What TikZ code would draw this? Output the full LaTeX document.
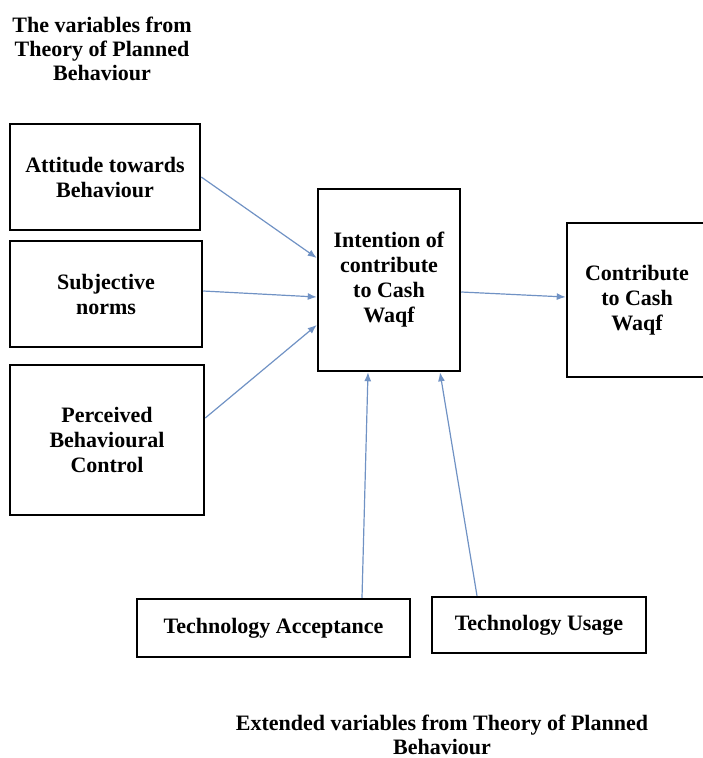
\documentclass[tikz,border=0pt]{standalone}
\usepackage{fontspec}
\setmainfont{Liberation Serif}
\usetikzlibrary{arrows.meta}
\definecolor{arrblue}{RGB}{112,146,196}
\tikzset{
  box/.style={draw,line width=2.5pt,align=center,inner sep=0pt,
    font=\bfseries\fontsize{22}{25}\selectfont},
  caption/.style={align=center,font=\bfseries\fontsize{22}{24}\selectfont},
  link/.style={->,draw=arrblue,line width=1.2pt}
}
\begin{document}
\begin{tikzpicture}[x=1pt,y=-1pt,>={Latex[length=9pt,width=7pt]}]
  \useasboundingbox (0,0) rectangle (702,758);

  \node[caption](top) at (102,49) {The variables from\\Theory of Planned\\Behaviour};
  \node[caption](bot) at (442,735) {Extended variables from Theory of Planned\\Behaviour};

  \node[box,minimum width=190pt,minimum height=106pt](att) at (105,177) {Attitude towards\\Behaviour};
  \node[box,minimum width=192pt,minimum height=106pt](sn) at (106,294) {Subjective\\norms};
  \node[box,minimum width=194pt,minimum height=150pt](pbc) at (107,440) {Perceived\\Behavioural\\Control};
  \node[box,minimum width=142pt,minimum height=182pt](int) at (389,280) {Intention of\\contribute\\to Cash\\Waqf};
  \node[box,minimum width=140pt,minimum height=154pt](cw) at (637,300) {Contribute\\to Cash\\Waqf};
  \node[box,minimum width=273pt,minimum height=58pt](ta) at (273.5,628) {Technology Acceptance};
  \node[box,minimum width=214pt,minimum height=56pt](tu) at (539,625) {Technology Usage};

  \draw[link] (att.east) -- ([yshift=22pt]int.west);
  \draw[link] ([yshift=3pt]sn.east) -- ([yshift=-17pt]int.west);
  \draw[link] ([yshift=22pt]pbc.east) -- ([yshift=-45pt]int.west);
  \draw[link] ([yshift=-12pt]int.east) -- ([yshift=3pt]cw.west);
  \draw[link] ([xshift=88.5pt]ta.north) -- ([xshift=-21pt]int.south);
  \draw[link] ([xshift=-62pt]tu.north) -- ([xshift=51pt]int.south);
\end{tikzpicture}
\end{document}
